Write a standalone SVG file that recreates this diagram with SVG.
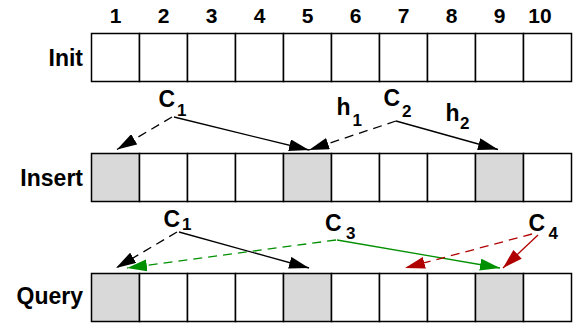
<svg xmlns="http://www.w3.org/2000/svg" width="579" height="329" viewBox="0 0 579 329">
<style>
text{font-family:"Liberation Sans",Arial,sans-serif;font-weight:bold;fill:#000}
.num{font-size:21px;text-anchor:middle}
.row{font-size:23px;text-anchor:end}
.big{font-size:23px}
.sub{font-size:17px}
.cell{fill:#fff;stroke:#000;stroke-width:1.5}
.hit{fill:#d9d9d9}
.k{stroke:#000;stroke-width:1.3;fill:none}
.g{stroke:#009000;stroke-width:1.3;fill:none}
.r{stroke:#b00000;stroke-width:1.3;fill:none}
.d{stroke-dasharray:9,6}
</style>
<defs>
<marker id="ak" viewBox="0 0 20 12" refX="20" refY="6" markerWidth="20" markerHeight="12" markerUnits="userSpaceOnUse" orient="auto"><path d="M0,0 L20,6 L0,12 z" fill="#000"/></marker>
<marker id="ag" viewBox="0 0 20 12" refX="20" refY="6" markerWidth="20" markerHeight="12" markerUnits="userSpaceOnUse" orient="auto"><path d="M0,0 L20,6 L0,12 z" fill="#009000"/></marker>
<marker id="ar" viewBox="0 0 20 12" refX="20" refY="6" markerWidth="20" markerHeight="12" markerUnits="userSpaceOnUse" orient="auto"><path d="M0,0 L20,6 L0,12 z" fill="#b00000"/></marker>
</defs>
<g id="indices">
<text class="num" x="115.5" y="23">1</text>
<text class="num" x="163.5" y="23">2</text>
<text class="num" x="211.5" y="23">3</text>
<text class="num" x="259.5" y="23">4</text>
<text class="num" x="307.5" y="23">5</text>
<text class="num" x="355.5" y="23">6</text>
<text class="num" x="403.5" y="23">7</text>
<text class="num" x="451.5" y="23">8</text>
<text class="num" x="499.5" y="23">9</text>
<text class="num" x="540" y="23">10</text>
</g>
<g id="row-init">
<text class="row" x="83" y="66">Init</text>
<rect class="cell" x="91.5" y="33.5" width="48" height="48"/>
<rect class="cell" x="139.5" y="33.5" width="48" height="48"/>
<rect class="cell" x="187.5" y="33.5" width="48" height="48"/>
<rect class="cell" x="235.5" y="33.5" width="48" height="48"/>
<rect class="cell" x="283.5" y="33.5" width="48" height="48"/>
<rect class="cell" x="331.5" y="33.5" width="48" height="48"/>
<rect class="cell" x="379.5" y="33.5" width="48" height="48"/>
<rect class="cell" x="427.5" y="33.5" width="48" height="48"/>
<rect class="cell" x="475.5" y="33.5" width="48" height="48"/>
<rect class="cell" x="523.5" y="33.5" width="48" height="48"/>
</g>
<g id="row-insert">
<text class="row" x="83" y="185.5">Insert</text>
<rect class="cell hit" x="91.5" y="153.5" width="48" height="48"/>
<rect class="cell" x="139.5" y="153.5" width="48" height="48"/>
<rect class="cell" x="187.5" y="153.5" width="48" height="48"/>
<rect class="cell" x="235.5" y="153.5" width="48" height="48"/>
<rect class="cell hit" x="283.5" y="153.5" width="48" height="48"/>
<rect class="cell" x="331.5" y="153.5" width="48" height="48"/>
<rect class="cell" x="379.5" y="153.5" width="48" height="48"/>
<rect class="cell" x="427.5" y="153.5" width="48" height="48"/>
<rect class="cell hit" x="475.5" y="153.5" width="48" height="48"/>
<rect class="cell" x="523.5" y="153.5" width="48" height="48"/>
</g>
<g id="row-query">
<text class="row" x="83" y="304">Query</text>
<rect class="cell hit" x="91.5" y="273.5" width="48" height="48"/>
<rect class="cell" x="139.5" y="273.5" width="48" height="48"/>
<rect class="cell" x="187.5" y="273.5" width="48" height="48"/>
<rect class="cell" x="235.5" y="273.5" width="48" height="48"/>
<rect class="cell hit" x="283.5" y="273.5" width="48" height="48"/>
<rect class="cell" x="331.5" y="273.5" width="48" height="48"/>
<rect class="cell" x="379.5" y="273.5" width="48" height="48"/>
<rect class="cell" x="427.5" y="273.5" width="48" height="48"/>
<rect class="cell hit" x="475.5" y="273.5" width="48" height="48"/>
<rect class="cell" x="523.5" y="273.5" width="48" height="48"/>
</g>
<g id="labels">
<text class="big" x="158.5" y="107">C</text><text class="sub" x="177" y="115.5">1</text>
<text class="big" x="336.5" y="114.5">h</text><text class="sub" x="352.5" y="125.5">1</text>
<text class="big" x="383.5" y="106">C</text><text class="sub" x="402" y="117">2</text>
<text class="big" x="445.5" y="120.5">h</text><text class="sub" x="460" y="128.5">2</text>
<text class="big" x="163.5" y="227">C</text><text class="sub" x="182" y="229.5">1</text>
<text class="big" x="325" y="230.5">C</text><text class="sub" x="346" y="238.5">3</text>
<text class="big" x="528.5" y="230.5">C</text><text class="sub" x="548.5" y="238.5">4</text>
</g>
<g id="connectors">
<line class="k d" x1="172" y1="117" x2="117" y2="149.5" marker-end="url(#ak)"/>
<line class="k" x1="174" y1="117" x2="309" y2="150" marker-end="url(#ak)"/>
<line class="k d" x1="396" y1="121" x2="309" y2="150" marker-end="url(#ak)"/>
<line class="k" x1="396" y1="121" x2="498" y2="149.5" marker-end="url(#ak)"/>
<line class="k d" x1="177" y1="232" x2="116" y2="268" marker-end="url(#ak)"/>
<line class="k" x1="179" y1="232" x2="309" y2="268" marker-end="url(#ak)"/>
<line class="g d" x1="336" y1="240" x2="127" y2="268" marker-end="url(#ag)"/>
<line class="g" x1="337" y1="240" x2="500" y2="268" marker-end="url(#ag)"/>
<line class="r d" x1="532" y1="234" x2="405" y2="268" marker-end="url(#ar)"/>
<line class="r" x1="538" y1="235" x2="503" y2="268" marker-end="url(#ar)"/>
</g>
</svg>
